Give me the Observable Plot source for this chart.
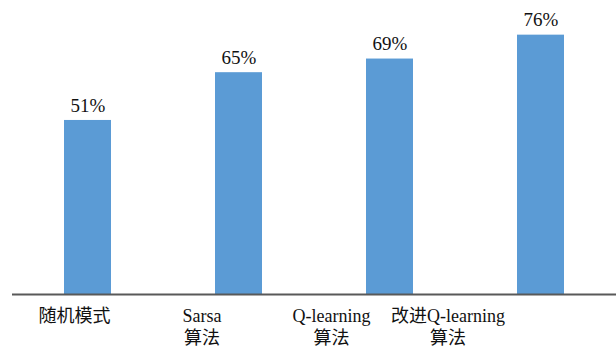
<!DOCTYPE html>
<html>
<head>
<meta charset="utf-8">
<script src="https://cdn.jsdelivr.net/npm/d3@7"></script>
<script src="https://cdn.jsdelivr.net/npm/@observablehq/plot@0.6"></script>
<style>
  html, body { margin: 0; padding: 0; background: #fff; }
  .wrap svg { display: block; }
  .wrap svg text { font-family: "Liberation Serif", "Times New Roman", Tinos, serif, "Noto Sans CJK SC" !important; }
</style>
</head>
<body>
<div id="chart" class="wrap"></div>
<script>
const categories = ["随机模式", "Sarsa\n算法", "Q-learning\n算法", "改进Q-learning\n算法"];
const values = [51, 65, 69, 76];
const valueLabels = ["51%", "65%", "69%", "76%"];

// layout-only horizontal offsets of the category labels relative to their bars
const labelShift = [-13.5, -37, -58.5, -93];

const data = categories.map((c, i) => ({cat: c, value: values[i], label: valueLabels[i]}));

const ff = "Liberation Serif, Times New Roman, Tinos, serif, Noto Sans CJK SC";

const labelMarks = data.map((d, i) =>
  Plot.text([d], {
    x: "cat", frameAnchor: "bottom", text: "cat",
    dx: labelShift[i], dy: 12, lineAnchor: "top", lineHeight: 1.22,
    fontSize: 18, fill: "#111", fontFamily: ff
  })
);

const chart = Plot.plot({
  width: 616,
  height: 351,
  marginLeft: 12,
  marginRight: 0,
  marginTop: 21,
  marginBottom: 57,
  style: {fontFamily: ff},
  x: {domain: categories, paddingInner: 0.69, paddingOuter: 0.345, axis: null},
  y: {domain: [0, 80], axis: null},
  marks: [
    Plot.barY(data, {x: "cat", y: "value", fill: "#5b9bd5"}),
    Plot.text(data, {x: "cat", y: "value", text: "label", dy: -15, fontSize: 19, fill: "#111", fontFamily: ff}),
    Plot.ruleY([0], {stroke: "#595959", strokeWidth: 2}),
    ...labelMarks
  ]
});
document.getElementById("chart").appendChild(chart);
</script>
</body>
</html>
